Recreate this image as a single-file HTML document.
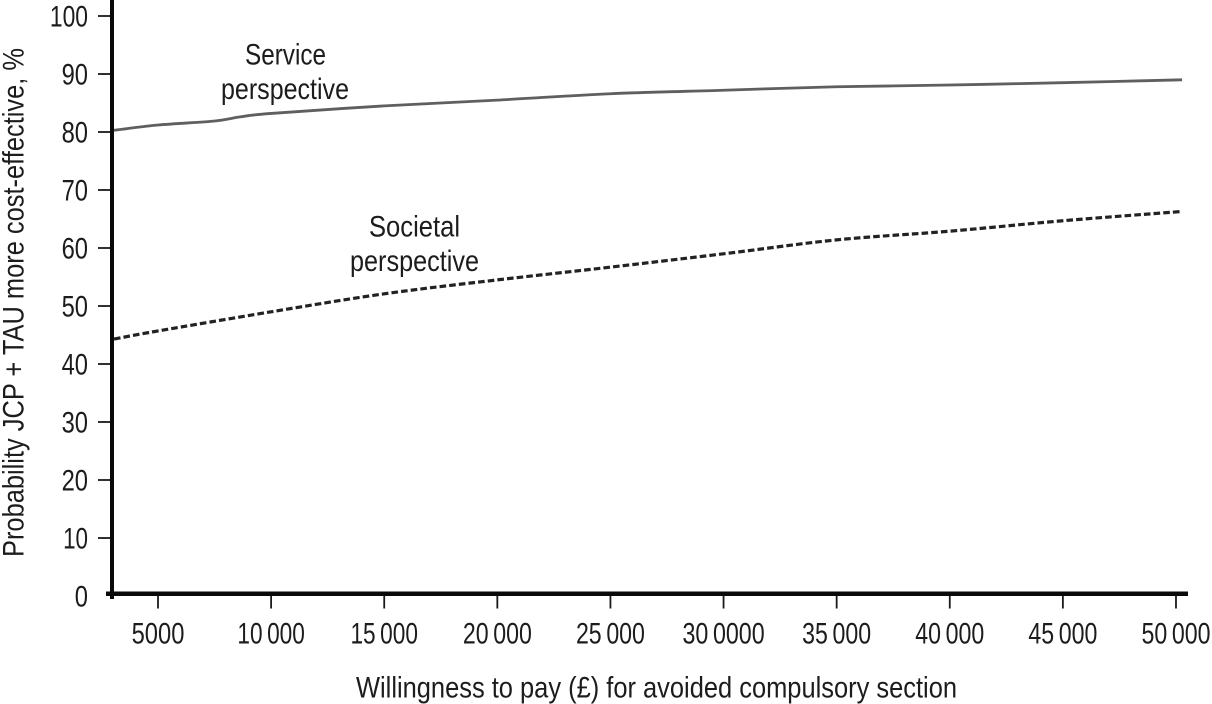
<!DOCTYPE html>
<html lang="en">
<head>
<meta charset="utf-8">
<title>Cost-effectiveness acceptability curves</title>
<style>
html,body{margin:0;padding:0;background:#fff;width:1212px;height:704px;overflow:hidden}
svg{display:block}
text{font-family:"Liberation Sans Narrow","Liberation Sans",sans-serif;fill:#1c1c1c;font-size:30px}
#series path{filter:blur(0.35px)}
</style>
</head>
<body>
<svg id="chart" xmlns="http://www.w3.org/2000/svg" width="1212" height="704" viewBox="0 0 1212 704">
  <rect x="0" y="0" width="1212" height="704" fill="#ffffff"></rect>
  <g id="ticks"></g>
  <g id="series"></g>
  <rect x="110" y="0" width="4" height="599" fill="#0a0a0a"></rect>
  <rect x="106" y="591.5" width="1082" height="4.5" fill="#0a0a0a"></rect>
  <text x="245" y="64.5" textLength="81" lengthAdjust="spacingAndGlyphs">Service</text>
  <text x="221" y="99" textLength="128" lengthAdjust="spacingAndGlyphs">perspective</text>
  <text x="369" y="236.5" textLength="91" lengthAdjust="spacingAndGlyphs">Societal</text>
  <text x="350" y="271" textLength="129" lengthAdjust="spacingAndGlyphs">perspective</text>
  <text x="356" y="697.5" textLength="601" lengthAdjust="spacingAndGlyphs">Willingness to pay (£) for avoided compulsory section</text>
  <text transform="translate(23.5,557) rotate(-90)" x="0" y="0" textLength="509" lengthAdjust="spacingAndGlyphs">Probability JCP + TAU more cost-effective, %</text>
</svg>
<script>
var yTickValues = [0, 10, 20, 30, 40, 50, 60, 70, 80, 90, 100];
var xTickValues = [5000, 10000, 15000, 20000, 25000, 30000, 35000, 40000, 45000, 50000];
var xTickLabels = ["5000", "10\u2009000", "15\u2009000", "20\u2009000", "25\u2009000", "30\u20090000", "35\u2009000", "40\u2009000", "45\u2009000", "50\u2009000"];
var wtpService = [3055, 5000, 7520, 8625, 10000, 15000, 20000, 25000, 30000, 35000, 40000, 45000, 50270];
var serviceValues = [80.3, 81.2, 81.9, 82.6, 83.2, 84.5, 85.5, 86.6, 87.2, 87.8, 88.1, 88.5, 89.0];
var wtpSocietal = [3055, 5000, 10000, 15000, 20000, 25000, 30000, 35000, 40000, 45000, 50270];
var societalValues = [44.3, 45.7, 49.0, 52.1, 54.5, 56.7, 59.0, 61.4, 62.9, 64.7, 66.3];

var SVG_NS = "http://www.w3.org/2000/svg";

function xScale(v) {
  return 158 + (v - 5000) * 0.022622;
}
function yScale(v) {
  return 596 - v * 5.8;
}
function labelWidth(s) {
  var w = 0;
  for (var i = 0; i < s.length; i++) {
    w += s[i] === "\u2009" ? 3 : (s[i] === "1" ? 11.7 : 13.2);
  }
  return w;
}
function smoothPath(xs, ys) {
  var pts = xs.map(function (x, i) { return [xScale(x), yScale(ys[i])]; });
  var d = "M" + pts[0][0].toFixed(2) + " " + pts[0][1].toFixed(2);
  for (var i = 0; i < pts.length - 1; i++) {
    var p0 = pts[Math.max(i - 1, 0)];
    var p1 = pts[i];
    var p2 = pts[i + 1];
    var p3 = pts[Math.min(i + 2, pts.length - 1)];
    var c1x = p1[0] + (p2[0] - p0[0]) / 6;
    var c1y = p1[1] + (p2[1] - p0[1]) / 6;
    var c2x = p2[0] - (p3[0] - p1[0]) / 6;
    var c2y = p2[1] - (p3[1] - p1[1]) / 6;
    d += "C" + c1x.toFixed(2) + " " + c1y.toFixed(2) + " " + c2x.toFixed(2) + " " + c2y.toFixed(2) + " " + p2[0].toFixed(2) + " " + p2[1].toFixed(2);
  }
  return d;
}

var ticksGroup = document.getElementById("ticks");
var seriesGroup = document.getElementById("series");

yTickValues.forEach(function (v) {
  var tick = document.createElementNS(SVG_NS, "line");
  tick.setAttribute("x1", 98);
  tick.setAttribute("x2", 110);
  tick.setAttribute("y1", yScale(v));
  tick.setAttribute("y2", yScale(v));
  tick.setAttribute("stroke", "#1a1a1a");
  tick.setAttribute("stroke-width", "1.8");
  
  
  if (v !== 0) { ticksGroup.appendChild(tick); }

  var label = document.createElementNS(SVG_NS, "text");
  var s = String(v);
  label.textContent = s;
  label.setAttribute("x", 88 - labelWidth(s));
  label.setAttribute("y", yScale(v) + 10.5);
  label.setAttribute("textLength", labelWidth(s));
  label.setAttribute("lengthAdjust", "spacingAndGlyphs");
  
  
  ticksGroup.appendChild(label);
});

xTickValues.forEach(function (v, i) {
  var tick = document.createElementNS(SVG_NS, "line");
  tick.setAttribute("x1", xScale(v));
  tick.setAttribute("x2", xScale(v));
  tick.setAttribute("y1", 596);
  tick.setAttribute("y2", 608.5);
  tick.setAttribute("stroke", "#1a1a1a");
  tick.setAttribute("stroke-width", "1.8");
  
  
  ticksGroup.appendChild(tick);

  var label = document.createElementNS(SVG_NS, "text");
  var s = xTickLabels[i];
  var w = labelWidth(s);
  label.textContent = s;
  label.setAttribute("x", xScale(v) - w / 2);
  label.setAttribute("y", 643.5);
  label.setAttribute("textLength", w);
  label.setAttribute("lengthAdjust", "spacingAndGlyphs");
  
  
  ticksGroup.appendChild(label);
});

var serviceLine = document.createElementNS(SVG_NS, "path");
serviceLine.setAttribute("d", smoothPath(wtpService, serviceValues));
serviceLine.setAttribute("fill", "none");
serviceLine.setAttribute("stroke", "#5f5f5f");
serviceLine.setAttribute("stroke-width", "2.8");


seriesGroup.appendChild(serviceLine);

var societalLine = document.createElementNS(SVG_NS, "path");
societalLine.setAttribute("d", smoothPath(wtpSocietal, societalValues));
societalLine.setAttribute("fill", "none");
societalLine.setAttribute("stroke", "#222222");
societalLine.setAttribute("stroke-width", "3.2");
societalLine.setAttribute("stroke-dasharray", "6.6 3.1");


seriesGroup.appendChild(societalLine);
</script>
</body>
</html>
